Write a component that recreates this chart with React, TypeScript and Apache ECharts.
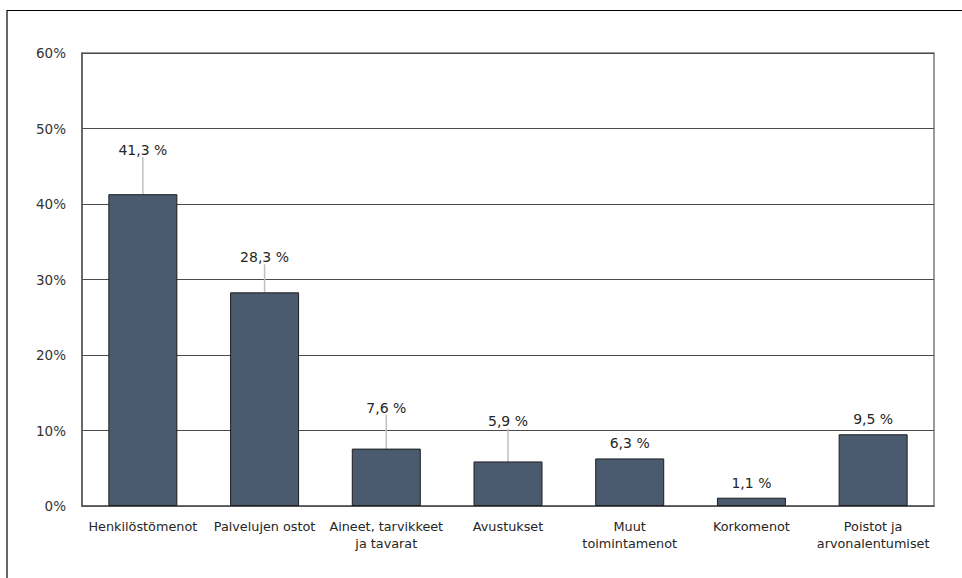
import React, { useEffect, useRef } from "react";
import * as echarts from "echarts";

const categories = [
  "Henkilöstömenot",
  "Palvelujen ostot",
  "Aineet, tarvikkeet\nja tavarat",
  "Avustukset",
  "Muut\ntoimintamenot",
  "Korkomenot",
  "Poistot ja\narvonalentumiset",
];
const values = [41.3, 28.3, 7.6, 5.9, 6.3, 1.1, 9.5];
const yTicks = { min: 0, max: 60, interval: 10 };

// label lift (px) above default position, layout only
const labelLift = [29, 20, 26, 25, 0, 0, 0];

const FONT = "DejaVu Sans";

export default function App() {
  const ref = useRef<HTMLDivElement>(null);
  useEffect(() => {
    if (!ref.current) return;
    const chart = echarts.init(ref.current, null, { renderer: "svg" });
    chart.setOption({
      animation: false,
      backgroundColor: "#ffffff",
      grid: {
        left: 82,
        right: 28,
        top: 53,
        bottom: 72,
        show: true,
        borderColor: "#7a7a7a",
        borderWidth: 1.5,
      },
      xAxis: {
        type: "category",
        data: categories,
        axisLine: { lineStyle: { color: "#595959", width: 1.5 } },
        axisTick: { show: false },
        axisLabel: {
          color: "#262626",
          fontFamily: FONT,
          fontSize: 12.8,
          lineHeight: 17,
          margin: 12,
          interval: 0,
        },
      },
      yAxis: {
        type: "value",
        min: yTicks.min,
        max: yTicks.max,
        interval: yTicks.interval,
        axisLine: { show: true, lineStyle: { color: "#595959", width: 1.5 } },
        axisTick: { show: false },
        splitLine: { lineStyle: { color: "#4a4a4a", width: 1.2 } },
        axisLabel: {
          formatter: "{value}%",
          color: "#333333",
          fontFamily: FONT,
          fontSize: 13.5,
          margin: 16,
        },
      },
      series: [
        {
          type: "bar",
          data: values.map((v, i) => ({
            value: v,
            labelLine: { show: labelLift[i] > 0 },
          })),
          barWidth: 69,
          itemStyle: {
            color: "#4a5a6f",
            borderColor: "#1e1e1e",
            borderWidth: 1,
          },
          label: {
            show: true,
            position: "top",
            distance: 8,
            color: "#262626",
            fontFamily: FONT,
            fontSize: 14,
            formatter: (p: any) => String(p.value).replace(".", ",") + " %",
          },
          labelLine: {
            show: true,
            lineStyle: { color: "#bfbfbf", width: 1.5 },
          },
          labelLayout: (p: any) => ({ dy: -labelLift[p.dataIndex] }),
        },
      ],
      graphic: [
        {
          type: "line",
          shape: { x1: 7, y1: 10.5, x2: 962, y2: 10.5 },
          style: { stroke: "#000", lineWidth: 1.2 },
        },
        {
          type: "line",
          shape: { x1: 7, y1: 10, x2: 7, y2: 578 },
          style: { stroke: "#000", lineWidth: 1.2 },
        },
      ],
    });
    return () => chart.dispose();
  }, []);
  return (
    <div
      ref={ref}
      style={{ position: "fixed", left: 0, top: 0, width: 962, height: 578 }}
    />
  );
}
